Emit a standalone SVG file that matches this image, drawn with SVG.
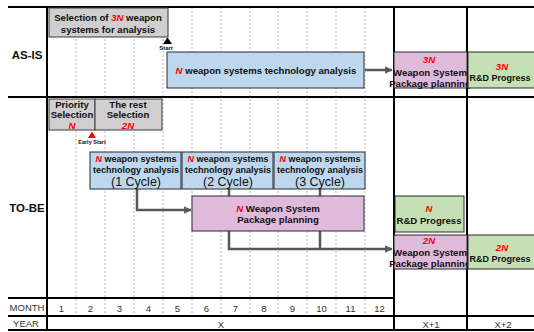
<svg xmlns="http://www.w3.org/2000/svg" width="534" height="332" viewBox="0 0 534 332">
<defs>
<style>
text{font-family:"Liberation Sans","Noto Sans",Arial,sans-serif;fill:#111;text-anchor:middle}
.lbl{font-size:11.5px;font-weight:bold}
.t{font-size:9.6px;font-weight:bold}
.c{font-size:9px;font-weight:bold}
.big{font-size:12.5px}
.red{fill:#ff0000;font-style:italic;font-weight:bold}
.ax{font-size:9.5px;fill:#333}
.tiny{font-size:6px;font-weight:bold}
.tiny2{font-size:5.5px;font-weight:bold}
.grid{stroke:#000;stroke-width:2;fill:none}
.dash{stroke:#a6a6a6;stroke-width:0.8;stroke-dasharray:2 2;fill:none}
.gray{fill:#d0cece;stroke:#3a3a3a;stroke-width:1}
.blue{fill:#bdd7ee;stroke:#2a2a2a;stroke-width:1}
.pink{fill:#e0badb;stroke:#2a2a2a;stroke-width:1}
.green{fill:#c5e0b4;stroke:#2a2a2a;stroke-width:1}
.con{stroke:#595959;stroke-width:2.5;fill:none}
</style>
<marker id="ah" viewBox="0 0 6 6" refX="5.5" refY="3" markerWidth="3" markerHeight="3" orient="auto" markerUnits="strokeWidth">
<path d="M0,0 L6,3 L0,6 z" fill="#595959"/>
</marker>
</defs>
<rect width="534" height="332" fill="#fff"/>

<g id="grid">
<g class="dash">
<line x1="76" y1="7" x2="76" y2="316"/>
<line x1="105" y1="7" x2="105" y2="316"/>
<line x1="134" y1="7" x2="134" y2="316"/>
<line x1="163" y1="7" x2="163" y2="316"/>
<line x1="192" y1="7" x2="192" y2="316"/>
<line x1="221" y1="7" x2="221" y2="316"/>
<line x1="250" y1="7" x2="250" y2="316"/>
<line x1="278" y1="7" x2="278" y2="316"/>
<line x1="307" y1="7" x2="307" y2="316"/>
<line x1="336" y1="7" x2="336" y2="316"/>
<line x1="365" y1="7" x2="365" y2="316"/>
</g>
<line class="grid" x1="8" y1="7" x2="534" y2="7"/>
<line class="grid" x1="8" y1="97" x2="534" y2="97"/>
<line class="grid" x1="8" y1="298" x2="394" y2="298"/>
<line class="grid" x1="8" y1="316" x2="534" y2="316"/>
<line class="grid" x1="8" y1="330" x2="534" y2="330"/>
<line class="grid" x1="47" y1="7" x2="47" y2="330"/>
<line class="grid" x1="394" y1="7" x2="394" y2="330"/>
<line class="grid" x1="467" y1="7" x2="467" y2="330"/>
<text class="lbl" x="27" y="59">AS-IS</text>
<text class="lbl" x="27" y="212">TO-BE</text>
<text class="ax" x="27" y="311">MONTH</text>
<text class="ax" x="26" y="327">YEAR</text>
<text class="ax" x="61.5" y="312">1</text>
<text class="ax" x="90.5" y="312">2</text>
<text class="ax" x="119.5" y="312">3</text>
<text class="ax" x="148.5" y="312">4</text>
<text class="ax" x="177.5" y="312">5</text>
<text class="ax" x="206.5" y="312">6</text>
<text class="ax" x="235.5" y="312">7</text>
<text class="ax" x="264" y="312">8</text>
<text class="ax" x="292.5" y="312">9</text>
<text class="ax" x="321.5" y="312">10</text>
<text class="ax" x="350.5" y="312">11</text>
<text class="ax" x="379.5" y="312">12</text>
<text class="ax" x="221" y="328">X</text>
<text class="ax" x="431" y="328">X+1</text>
<text class="ax" x="503" y="328">X+2</text>
</g>

<g id="connectors">
<line class="con" x1="365" y1="70" x2="392" y2="70" marker-end="url(#ah)"/>
<polyline class="con" points="137,189 137,210 191,210" marker-end="url(#ah)"/>
<line class="con" x1="229" y1="189" x2="229" y2="196"/>
<line class="con" x1="320" y1="189" x2="320" y2="196"/>
<polyline class="con" points="229,231 229,249 392,249" marker-end="url(#ah)"/>
<line class="con" x1="320" y1="231" x2="320" y2="249"/>
</g>

<g id="asis-selection">
<rect class="gray" x="49" y="8" width="119" height="29"/>
<text class="t" x="108" y="20.5">Selection of <tspan class="red">3N</tspan> weapon</text>
<text class="t" x="108" y="32.5">systems for analysis</text>
</g>
<g id="asis-start">
<path d="M163,44 L167.5,37.5 L172,44 z" fill="#000"/>
<text class="tiny" x="166" y="50">Start</text>
</g>
<g id="asis-analysis">
<rect class="blue" x="167" y="52" width="197" height="36"/>
<text class="t" x="266" y="74"><tspan class="red">N</tspan> weapon systems technology analysis</text>
</g>
<g id="asis-package">
<rect class="pink" x="394" y="52" width="73" height="36"/>
<text class="t red" x="429" y="63">3N</text>
<text class="t" x="430" y="75.5">Weapon System</text>
<text class="t" x="430" y="87">Package planning</text>
</g>
<g id="asis-rnd">
<rect class="green" x="468" y="52" width="70" height="36"/>
<text class="t red" x="502" y="70">3N</text>
<text class="c" x="500" y="81">R&amp;D Progress</text>
</g>

<g id="tobe-priority">
<rect class="gray" x="49" y="99" width="46" height="31"/>
<text class="t" x="72" y="107.5">Priority</text>
<text class="t" x="72" y="118">Selection</text>
<text class="t red" x="72" y="128.5">N</text>
</g>
<g id="tobe-rest">
<rect class="gray" x="95" y="99" width="67" height="31"/>
<text class="t" x="128" y="107.5">The rest</text>
<text class="t" x="128" y="118">Selection</text>
<text class="t red" x="128" y="128.5">2N</text>
</g>
<g id="tobe-early-start">
<path d="M88,138 L92,131.5 L96,138 z" fill="#ff0000"/>
<text class="tiny2" x="92" y="144">Early Start</text>
</g>
<g id="cycle1">
<rect class="blue" x="90" y="152" width="91" height="37"/>
<text class="c" x="136" y="162"><tspan class="red">N</tspan> weapon systems</text>
<text class="c" x="136" y="173">technology analysis</text>
<text class="big" x="136" y="186">(1 Cycle)</text>
</g>
<g id="cycle2">
<rect class="blue" x="182" y="152" width="91" height="37"/>
<text class="c" x="228" y="162"><tspan class="red">N</tspan> weapon systems</text>
<text class="c" x="228" y="173">technology analysis</text>
<text class="big" x="228" y="186">(2 Cycle)</text>
</g>
<g id="cycle3">
<rect class="blue" x="274" y="152" width="91" height="37"/>
<text class="c" x="320" y="162"><tspan class="red">N</tspan> weapon systems</text>
<text class="c" x="320" y="173">technology analysis</text>
<text class="big" x="320" y="186">(3 Cycle)</text>
</g>
<g id="tobe-package">
<rect class="pink" x="192" y="196" width="172" height="35"/>
<text class="t" x="278" y="212"><tspan class="red">N</tspan>  Weapon System</text>
<text class="t" x="278" y="223">Package planning</text>
</g>
<g id="tobe-rnd-n">
<rect class="green" x="395" y="196" width="69" height="36"/>
<text class="t red" x="429" y="212">N</text>
<text class="t" x="429" y="224">R&amp;D Progress</text>
</g>
<g id="tobe-package-2n">
<rect class="pink" x="394" y="235" width="73" height="34"/>
<text class="t red" x="429" y="244">2N</text>
<text class="t" x="430" y="256">Weapon System</text>
<text class="t" x="430" y="267">Package planning</text>
</g>
<g id="tobe-rnd-2n">
<rect class="green" x="468" y="235" width="70" height="34"/>
<text class="t red" x="502" y="251">2N</text>
<text class="c" x="500" y="262">R&amp;D Progress</text>
</g>
</svg>
